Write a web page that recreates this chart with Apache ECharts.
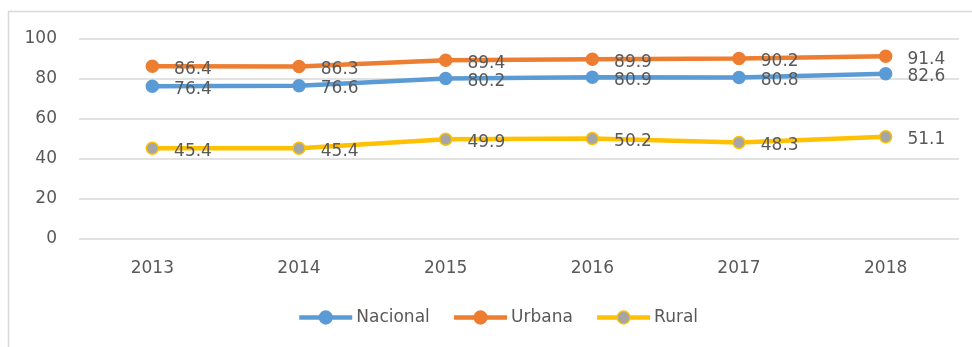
<!DOCTYPE html>
<html>
<head>
<meta charset="utf-8">
<script src="https://cdn.jsdelivr.net/npm/echarts@6/dist/echarts.min.js"></script>
<style>
  html, body { margin: 0; padding: 0; background: #fff; }
  #chart { width: 972px; height: 347px; }
</style>
</head>
<body>
<div id="chart"></div>
<script>
// Years on the category axis
const years = ['2013', '2014', '2015', '2016', '2017', '2018'];
// Values per area
const nacional = [76.4, 76.6, 80.2, 80.9, 80.8, 82.6];
const urbana = [86.4, 86.3, 89.4, 89.9, 90.2, 91.4];
const rural = [45.4, 45.4, 49.9, 50.2, 48.3, 51.1];
// Value axis ticks
const yTicks = [0, 20, 40, 60, 80, 100];

const FONT = 'DejaVu Sans';
const TEXT = '#595959';
const COLORS = {
  Nacional: { line: '#5B9BD5', fill: '#5B9BD5' },
  Urbana: { line: '#ED7D31', fill: '#ED7D31' },
  Rural: { line: '#FFC000', fill: '#A5A5A5' }
};

function makeSeries(name, data) {
  const c = COLORS[name];
  return {
    name: name,
    type: 'line',
    data: data,
    symbol: 'circle',
    symbolSize: 12,
    lineStyle: { color: c.line, width: 4.5 },
    itemStyle: { color: c.fill, borderColor: c.line, borderWidth: 1.5 },
    label: {
      show: true,
      position: 'right',
      distance: 15,
      offset: [0, 3],
      color: TEXT,
      fontFamily: FONT,
      fontSize: 17,
      formatter: p => p.value.toFixed(1)
    },
    emphasis: { disabled: true },
    animation: false
  };
}

function legendItem(name) {
  const c = COLORS[name];
  return {
    name: name,
    lineStyle: { color: c.line, width: 4.5 },
    itemStyle: { color: c.fill, borderColor: c.line, borderWidth: 1.5 }
  };
}

const chart = echarts.init(document.getElementById('chart'), null, { renderer: 'canvas' });
chart.setOption({
  backgroundColor: '#fff',
  animation: false,
  graphic: [{
    type: 'rect',
    shape: { x: 8.5, y: 11.5, width: 1000, height: 400 },
    style: { fill: 'none', stroke: '#D9D9D9', lineWidth: 1.5 },
    silent: true,
    z: -1
  }],
  grid: { left: 79, right: 13, top: 39, bottom: 108 },
  xAxis: {
    type: 'category',
    data: years,
    boundaryGap: true,
    axisLine: { show: false },
    axisTick: { show: false },
    axisLabel: { color: TEXT, fontFamily: FONT, fontSize: 17, margin: 21 }
  },
  yAxis: {
    type: 'value',
    min: yTicks[0],
    max: yTicks[yTicks.length - 1],
    interval: yTicks[1] - yTicks[0],
    axisLine: { show: false },
    axisTick: { show: false },
    splitLine: { lineStyle: { color: '#D9D9D9', width: 1.5 } },
    axisLabel: { color: TEXT, fontFamily: FONT, fontSize: 17, margin: 22, padding: [5, 0, 0, 0] }
  },
  legend: {
    left: 297,
    top: 309,
    padding: 0,
    itemWidth: 53,
    itemHeight: 16,
    itemGap: 22,
    textStyle: { color: TEXT, fontFamily: FONT, fontSize: 17, padding: [0, 0, 0, -1] },
    data: ['Nacional', 'Urbana', 'Rural'].map(legendItem)
  },
  series: [
    makeSeries('Nacional', nacional),
    makeSeries('Urbana', urbana),
    makeSeries('Rural', rural)
  ]
});
</script>
</body>
</html>
